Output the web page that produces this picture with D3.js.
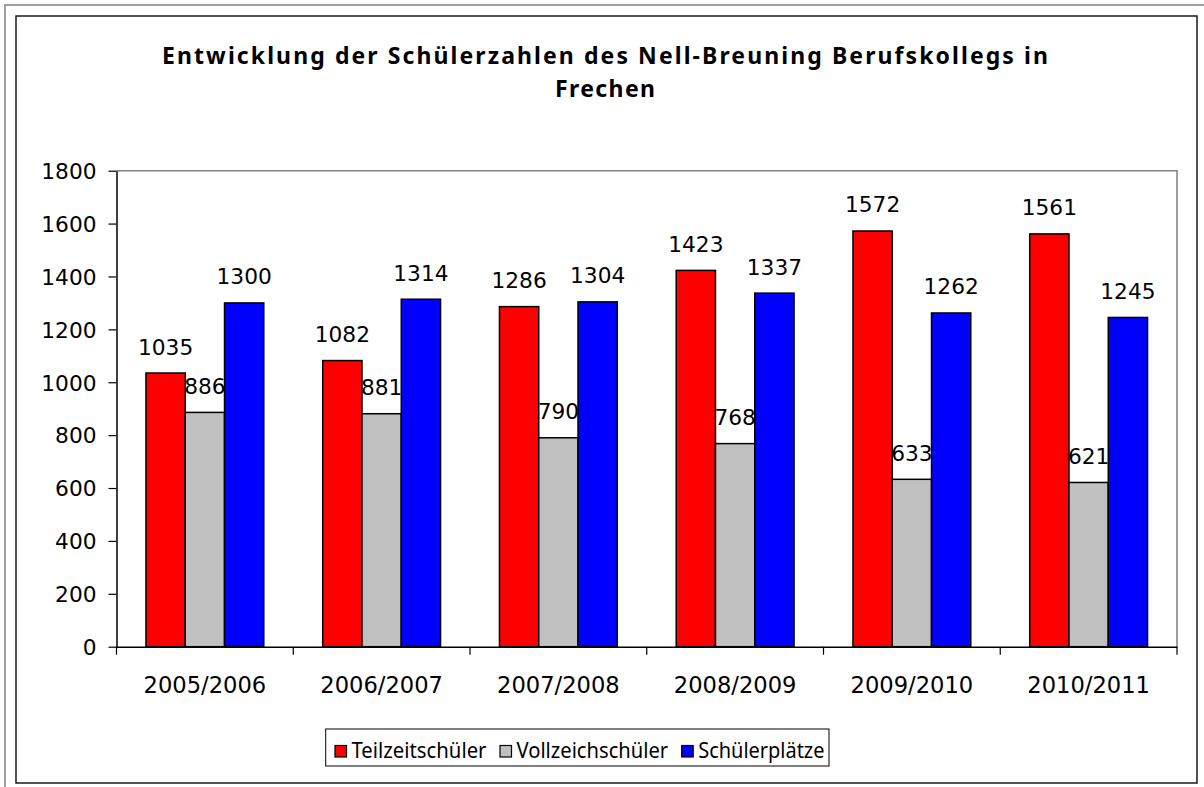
<!DOCTYPE html>
<html>
<head>
<meta charset="utf-8">
<script src="https://cdn.jsdelivr.net/npm/d3@7/dist/d3.min.js"></script>
<style>
  html, body { margin: 0; padding: 0; background: #fff; }
  svg { display: block; }
  .num { font-family: "DejaVu Sans", Verdana, sans-serif; font-size: 21.7px; fill: #000; }
  .cat { font-family: "DejaVu Sans", Verdana, sans-serif; font-size: 22.6px; fill: #000; }
  .txt { font-family: "Noto Sans", "Open Sans", sans-serif; fill: #000; }
</style>
</head>
<body>
<div id="chart"></div>
<script>
// data
var years = ["2005/2006", "2006/2007", "2007/2008", "2008/2009", "2009/2010", "2010/2011"];
var teilzeit = [1035, 1082, 1286, 1423, 1572, 1561];
var vollzeit = [886, 881, 790, 768, 633, 621];
var plaetze = [1300, 1314, 1304, 1337, 1262, 1245];
var seriesNames = ["Teilzeitschüler", "Vollzeichschüler", "Schülerplätze"];
var seriesColors = ["#ff0000", "#c0c0c0", "#0000ff"];
var yTicks = [0, 200, 400, 600, 800, 1000, 1200, 1400, 1600, 1800];

var W = 1204, H = 787;
var plot = { left: 116.5, right: 1177, top: 170.7, bottom: 646.7 };

var svg = d3.select("#chart").append("svg").attr("width", W).attr("height", H);

// frames
svg.append("rect").attr("x", 5).attr("y", 5).attr("width", 1400).attr("height", 900)
  .attr("fill", "none").attr("stroke", "#a0a0a0").attr("stroke-width", 2);
svg.append("rect").attr("x", 16).attr("y", 16).attr("width", 1181).attr("height", 767)
  .attr("fill", "#fff").attr("stroke", "#1a1a1a").attr("stroke-width", 1.5);

// title
var title = svg.append("text").attr("class", "txt").attr("text-anchor", "middle")
  .style("font-weight", "bold").style("font-size", "23px");
title.append("tspan").attr("x", 605).attr("y", 64)
  .attr("textLength", 886).attr("lengthAdjust", "spacing")
  .text("Entwicklung der Schülerzahlen des Nell-Breuning Berufskollegs in");
title.append("tspan").attr("x", 605).attr("y", 97)
  .attr("textLength", 100).attr("lengthAdjust", "spacing")
  .text("Frechen");

// scales
var x0 = d3.scaleBand().domain(years).range([plot.left, plot.right]).paddingInner(0).paddingOuter(0);
var x1 = d3.scaleBand().domain(d3.range(3)).range([0, x0.bandwidth()]).paddingOuter(0.75).paddingInner(0);
var y = d3.scaleLinear().domain([0, 1800]).range([plot.bottom, plot.top]);

// plot border (top/right grey)
svg.append("path")
  .attr("d", "M" + plot.left + "," + plot.top + "H" + plot.right + "V" + plot.bottom)
  .attr("fill", "none").attr("stroke", "#808080").attr("stroke-width", 1.5);

// bars
var table = years.map(function(yr, i) {
  return { year: yr, values: [teilzeit[i], vollzeit[i], plaetze[i]] };
});

var groups = svg.append("g").selectAll("g").data(table).join("g")
  .attr("transform", function(d) { return "translate(" + x0(d.year) + ",0)"; });

groups.selectAll("rect").data(function(d) { return d.values; }).join("rect")
  .attr("x", function(d, i) { return x1(i); })
  .attr("y", function(d) { return y(d); })
  .attr("width", x1.bandwidth())
  .attr("height", function(d) { return y(0) - y(d); })
  .attr("fill", function(d, i) { return seriesColors[i]; })
  .attr("stroke", "#000").attr("stroke-width", 1.5);

groups.selectAll("text").data(function(d) { return d.values; }).join("text")
  .attr("class", "num")
  .attr("x", function(d, i) { return x1(i) + x1.bandwidth() / 2; })
  .attr("y", function(d) { return y(d) - 18.5; })
  .attr("text-anchor", "middle")
  .text(function(d) { return d; });

// y axis
var yAxis = d3.axisLeft(y).tickValues(yTicks).tickFormat(d3.format("d"))
  .tickSize(8).tickPadding(12).tickSizeOuter(0);
var gy = svg.append("g").attr("transform", "translate(" + plot.left + ",0)").call(yAxis)
  .attr("font-family", null).attr("font-size", null);
gy.select(".domain").attr("stroke", "#000").attr("stroke-width", 1.5);
gy.selectAll(".tick line").attr("stroke", "#000").attr("stroke-width", 1.2);
gy.selectAll(".tick text").attr("class", "num").attr("fill", null).attr("dy", "0.36em");

// x axis
var xAxis = d3.axisBottom(x0).tickSize(0).tickPadding(30).tickSizeOuter(0);
var gx = svg.append("g").attr("transform", "translate(0," + plot.bottom + ")").call(xAxis)
  .attr("font-family", null).attr("font-size", null);
gx.select(".domain").attr("stroke", "#000").attr("stroke-width", 1.5);
gx.selectAll(".tick text").attr("class", "cat").attr("fill", null).attr("dy", "0.71em");
// category boundary ticks
var bounds = years.map(function(yr) { return x0(yr); }).concat([plot.right]);
gx.selectAll(".bound").data(bounds).join("line").attr("class", "bound")
  .attr("x1", function(d) { return d; }).attr("x2", function(d) { return d; })
  .attr("y1", 0).attr("y2", 8)
  .attr("stroke", "#000").attr("stroke-width", 1.2);

// legend
var legend = svg.append("g");
legend.append("rect").attr("x", 325.7).attr("y", 729).attr("width", 503.3).attr("height", 37)
  .attr("fill", "#fff").attr("stroke", "#000").attr("stroke-width", 1);
var legX = [335, 500, 681.7];
var items = legend.selectAll("g.item").data(seriesNames).join("g").attr("class", "item")
  .attr("transform", function(d, i) { return "translate(" + legX[i] + ",0)"; });
items.append("rect").attr("x", 0).attr("y", 745.5).attr("width", 11.5).attr("height", 11.5)
  .attr("fill", function(d, i) { return seriesColors[i]; })
  .attr("stroke", "#000").attr("stroke-width", 1.2);
var legLen = [135, 151.7, 126.3];
items.append("text").attr("class", "txt").attr("x", 16.5).attr("y", 757.5)
  .style("font-size", "21px")
  .attr("textLength", function(d, i) { return legLen[i]; }).attr("lengthAdjust", "spacingAndGlyphs")
  .text(function(d) { return d; });
</script>
</body>
</html>
